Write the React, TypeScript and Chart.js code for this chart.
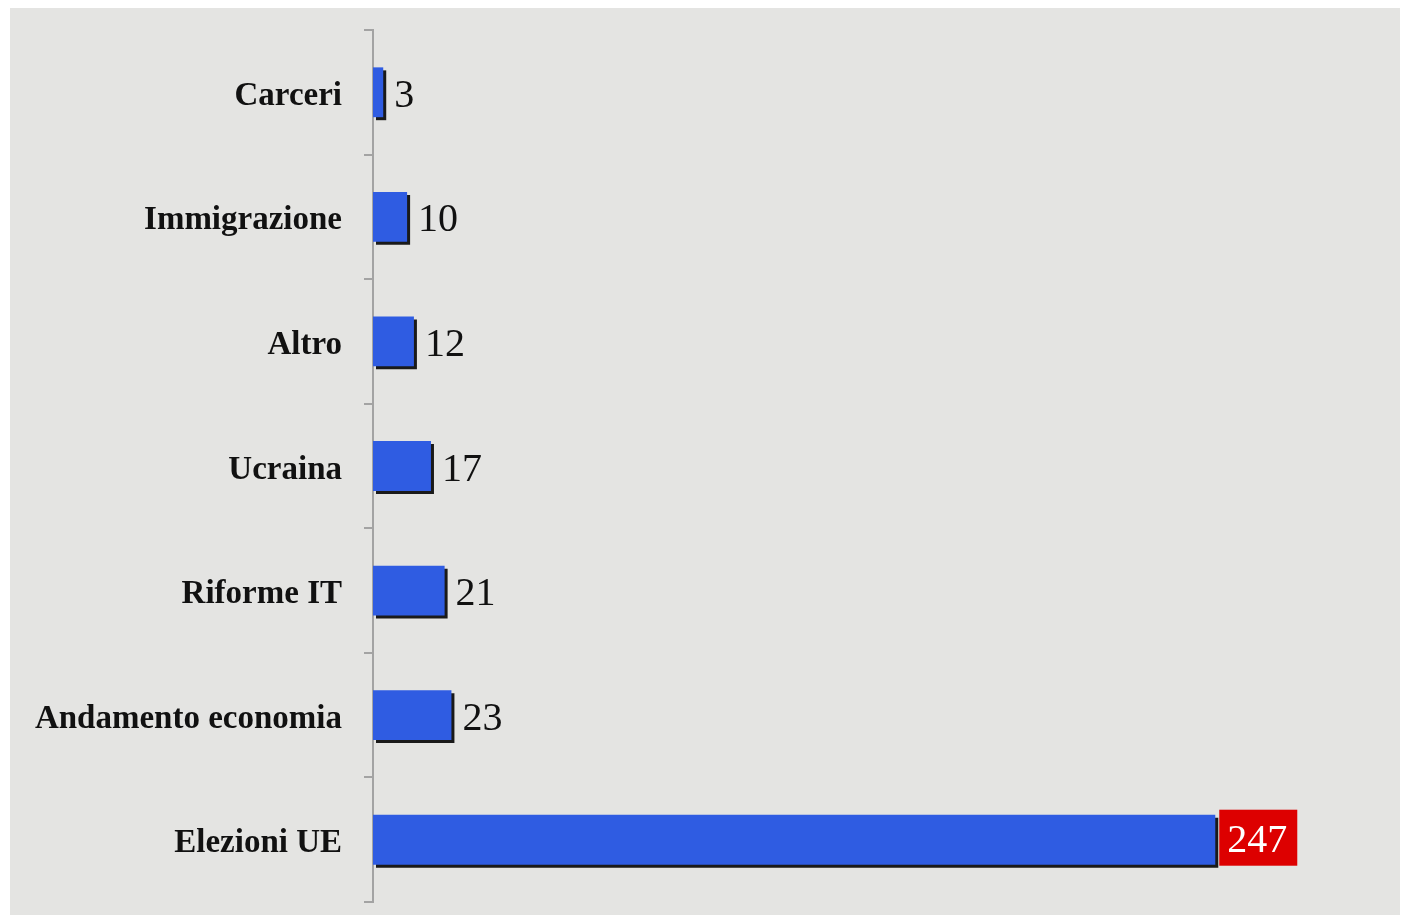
import React, { useEffect, useRef } from "react";
import { Chart, registerables } from "chart.js";

Chart.register(...registerables);

const categories = ["Carceri", "Immigrazione", "Altro", "Ucraina", "Riforme IT", "Andamento economia", "Elezioni UE"];
const values = [3, 10, 12, 17, 21, 23, 247];
const xMax = 300;

const BAR_COLOR = "#2f5ce2";

const shadowPlugin = {
  id: "barShadow",
  beforeDatasetDraw(chart: any) {
    const ctx = chart.ctx;
    ctx.save();
    ctx.shadowColor = "rgba(15,15,15,0.95)";
    ctx.shadowOffsetX = 3;
    ctx.shadowOffsetY = 3;
    ctx.shadowBlur = 0;
  },
  afterDatasetDraw(chart: any) {
    chart.ctx.restore();
  },
};

const categoryLabelPlugin = {
  id: "categoryLabels",
  afterDraw(chart: any) {
    const ctx = chart.ctx;
    const scale = chart.scales.y;
    ctx.save();
    ctx.font = "bold 33px 'Liberation Serif'";
    ctx.fillStyle = "#111111";
    ctx.textAlign = "right";
    ctx.textBaseline = "middle";
    const labels = chart.data.labels as string[];
    labels.forEach((lab: string, i: number) => {
      const y = scale.getPixelForTick(i);
      ctx.fillText(lab, 342, y + 4);
    });
    ctx.restore();
  },
};

const valueLabelPlugin = {
  id: "valueLabels",
  afterDatasetsDraw(chart: any) {
    const ctx = chart.ctx;
    const meta = chart.getDatasetMeta(0);
    const data = chart.data.datasets[0].data as number[];
    const maxV = Math.max(...data);
    ctx.save();
    ctx.font = "40px 'Liberation Serif'";
    ctx.textBaseline = "middle";
    ctx.textAlign = "left";
    meta.data.forEach((bar: any, i: number) => {
      const v = data[i];
      const text = String(v);
      const x = bar.x + 8;
      const y = bar.y;
      if (v === maxV) {
        const w = ctx.measureText(text).width;
        ctx.fillStyle = "#dd0000";
        ctx.fillRect(x - 4, y - 30, w + 18, 56);
        ctx.fillStyle = "#ffffff";
        ctx.fillText(text, x + 4, y + 2);
      } else {
        ctx.fillStyle = "#111111";
        ctx.fillText(text, x + 3, y + 4);
      }
    });
    ctx.restore();
  },
};

export default function App() {
  const ref = useRef<HTMLCanvasElement | null>(null);
  useEffect(() => {
    if (!ref.current) return;
    const chart = new Chart(ref.current, {
      type: "bar",
      data: {
        labels: categories,
        datasets: [
          {
            data: values,
            backgroundColor: BAR_COLOR,
            borderWidth: 0,
            barPercentage: 0.8,
            categoryPercentage: 0.5,
          },
        ],
      },
      options: {
        indexAxis: "y",
        animation: false,
        responsive: false,
        maintainAspectRatio: false,
        layout: { padding: { left: 0, top: 30, right: 5, bottom: 15 } },
        plugins: {
          legend: { display: false },
          tooltip: { enabled: false },
        },
        scales: {
          x: {
            display: false,
            min: 0,
            max: xMax,
          },
          y: {
            afterFit: (scale: any) => {
              scale.width = 373;
              scale.paddingTop = 0;
              scale.paddingBottom = 0;
            },
            grid: {
              display: true,
              drawOnChartArea: false,
              drawTicks: true,
              tickLength: 9,
              color: "#a3a3a3",
              lineWidth: 2,
            },
            border: { display: true, color: "#a3a3a3", width: 2 },
            ticks: {
              display: false,
              color: "#111111",
              padding: 22,
              font: { family: "'Liberation Serif'", size: 33, weight: "bold" },
            },
          },
        },
      },
      plugins: [shadowPlugin, valueLabelPlugin, categoryLabelPlugin],
    });
    return () => chart.destroy();
  }, []);

  return (
    <div style={{ position: "fixed", left: 0, top: 0, width: 1401, height: 917, background: "#ffffff" }}>
      <div
        style={{
          position: "absolute",
          left: 10,
          top: 8,
          width: 1390,
          height: 907,
          background: "#e4e4e2",
        }}
      />
      <canvas ref={ref} width={1401} height={917} style={{ position: "absolute", left: 0, top: 0 }} />
    </div>
  );
}
